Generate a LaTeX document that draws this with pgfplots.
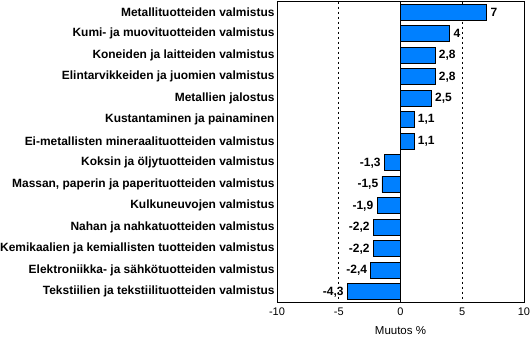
\documentclass[border=0pt]{standalone}
\usepackage{pgfplots}
\pgfplotsset{compat=1.18}
\usepackage{fontspec}
\setmainfont{Liberation Sans}
\definecolor{barblue}{RGB}{0,128,255}
\begin{document}
\begin{tikzpicture}
\begin{axis}[name=ax,
  scale only axis, width=247pt, height=301pt,
  xbar, bar width=16pt,
  xmin=-10, xmax=10, ymin=-0.5, ymax=13.5, y dir=reverse,
  xtick={-10,-5,0,5,10},
  ytick={0,...,13},
  yticklabels={Metallituotteiden valmistus,Kumi- ja muovituotteiden valmistus,Koneiden ja laitteiden valmistus,Elintarvikkeiden ja juomien valmistus,Metallien jalostus,Kustantaminen ja painaminen,Ei-metallisten mineraalituotteiden valmistus,Koksin ja öljytuotteiden valmistus,{Massan, paperin ja paperituotteiden valmistus},Kulkuneuvojen valmistus,Nahan ja nahkatuotteiden valmistus,Kemikaalien ja kemiallisten tuotteiden valmistus,Elektroniikka- ja sähkötuotteiden valmistus,Tekstiilien ja tekstiilituotteiden valmistus},
  yticklabel style={font=\fontsize{11.95}{12}\selectfont\bfseries, xshift=1pt},
  xticklabel style={font=\fontsize{11}{12}\selectfont, yshift=-2pt},
  /pgf/number format/assume math mode=true,
  /pgf/number format/use comma,
  major tick length=0pt,
  axis line style={line width=0.9pt},
  xmajorgrids, grid style={black, line width=0.8pt, dash pattern=on 2.5pt off 2.5pt},
  xlabel={Muutos \%}, xlabel style={font=\fontsize{11.5}{13}\selectfont, yshift=-3.5pt},
  nodes near coords,
  nodes near coords style={font=\fontsize{12}{12}\selectfont\bfseries},
]
\addplot[fill=barblue, draw=black, line width=0.9pt] coordinates {(7,0) (4,1) (2.8,2) (2.8,3) (2.5,4) (1.1,5) (1.1,6) (-1.3,7) (-1.5,8) (-1.9,9) (-2.2,10) (-2.2,11) (-2.4,12) (-4.3,13)};
\draw[black, line width=0.9pt] (axis cs:0,-0.5) -- (axis cs:0,13.5);
\end{axis}
\pgfresetboundingbox
\path ([xshift=-277pt,yshift=-34.5pt]ax.south west) rectangle ([xshift=6pt,yshift=1.5pt]ax.north east);
\end{tikzpicture}
\end{document}
